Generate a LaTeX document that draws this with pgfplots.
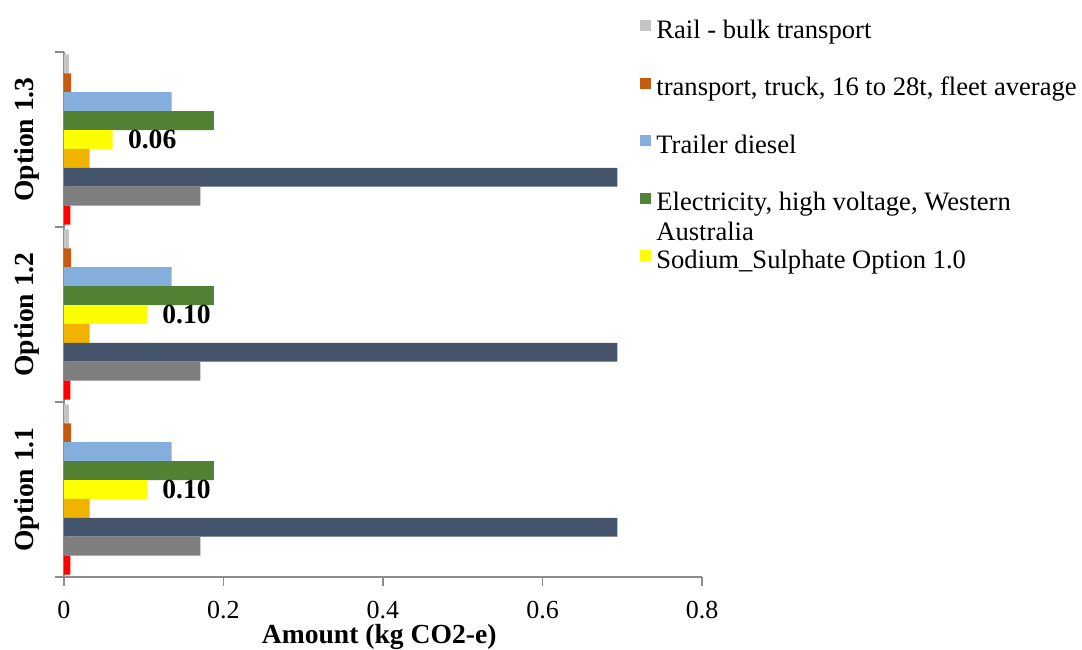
\documentclass[border=0pt]{standalone}
\usepackage{pgfplots}
\pgfplotsset{compat=1.18}
\usepackage{fontspec}
\setmainfont{Liberation Serif}

\definecolor{railgray}{HTML}{C4C4C4}
\definecolor{truckorange}{HTML}{C55A11}
\definecolor{trailerblue}{HTML}{84AEDC}
\definecolor{elecgreen}{HTML}{548235}
\definecolor{sodiumyellow}{HTML}{FFFF00}
\definecolor{goldbar}{HTML}{F0B400}
\definecolor{navybar}{HTML}{44546A}
\definecolor{midgray}{HTML}{7F7F7F}
\definecolor{redbar}{HTML}{FF0000}
\definecolor{axisgray}{HTML}{8C8C8C}

\begin{document}
\begin{tikzpicture}[font=\fontsize{13.3}{16}\selectfont]
\begin{axis}[
  xbar,
  scale only axis,
  width=319pt, height=262.5pt,
  xmin=0, xmax=0.8, ymin=0.5, ymax=3.5,
  axis x line*=bottom, axis y line*=left,
  axis line style={axisgray, line width=0.75pt},
  bar width=0.108,
  xtick={0,0.2,0.4,0.6,0.8},
  minor xtick={0,0.2,0.4,0.6,0.8},
  ytick={1,2,3},
  yticklabels={Option 1.1, Option 1.2, Option 1.3},
  minor ytick={0.5,1.5,2.5,3.5},
  major tick length=0pt,
  minor tick length=4.5pt,
  tick align=outside,
  tick style={axisgray, line width=0.75pt},
  /pgf/number format/assume math mode=true,
  xticklabel style={inner sep=0pt, anchor=north, yshift=-12pt, font=\fontsize{13}{16}\selectfont},
  yticklabel style={inner sep=0pt, font=\fontsize{13.8}{16}\selectfont\bfseries, rotate=90, anchor=center, yshift=18.5pt},
  xlabel={Amount (kg CO2-e)},
  xlabel style={at={(axis description cs:0.494,0)}, anchor=base, yshift=-33.5pt, inner sep=0pt, font=\fontsize{13.8}{16}\selectfont\bfseries},
  legend cell align=left,
  legend image code/.code={\fill[#1] (0pt,0.5pt) rectangle (5.5pt,6pt); \path (8pt,0pt);},
  legend style={at={(rel axis cs:0.9028,1.061)}, anchor=north west, draw=none, fill=none,
    inner sep=0pt, row sep=16.75pt,
    nodes={inner sep=0pt, text height=9pt, text depth=3pt}},
]
% bar shifts place the nine sources from top to bottom within each option
\addplot[fill=railgray, draw=none, bar shift=0.432]
  coordinates {(0.006,1) (0.006,2) (0.006,3)};
\addlegendentry{Rail - bulk transport}
\addplot[fill=truckorange, draw=none, bar shift=0.324]
  coordinates {(0.009,1) (0.009,2) (0.009,3)};
\addlegendentry{transport, truck, 16 to 28t, fleet average}
\addplot[fill=trailerblue, draw=none, bar shift=0.216]
  coordinates {(0.135,1) (0.135,2) (0.135,3)};
\addlegendentry{Trailer diesel}
\addplot[fill=elecgreen, draw=none, bar shift=0.108]
  coordinates {(0.188,1) (0.188,2) (0.188,3)};
\addlegendentry{\parbox[t]{9cm}{\baselineskip=15pt Electricity, high voltage, Western\\Australia}}
\addplot[fill=sodiumyellow, draw=none, bar shift=0,
  nodes near coords, point meta=x,
  nodes near coords style={anchor=west, inner sep=0pt, xshift=7.5pt,
    font=\fontsize{13.8}{16}\selectfont\bfseries,
    /pgf/number format/.cd, fixed, fixed zerofill, precision=2, assume math mode=true}]
  coordinates {(0.104,1) (0.104,2) (0.061,3)};
\addlegendentry{Sodium\_Sulphate Option 1.0}
\addplot[fill=goldbar, draw=none, bar shift=-0.108, forget plot]
  coordinates {(0.032,1) (0.032,2) (0.032,3)};
\addplot[fill=navybar, draw=none, bar shift=-0.216, forget plot]
  coordinates {(0.694,1) (0.694,2) (0.694,3)};
\addplot[fill=midgray, draw=none, bar shift=-0.324, forget plot]
  coordinates {(0.171,1) (0.171,2) (0.171,3)};
\addplot[fill=redbar, draw=none, bar shift=-0.432, forget plot]
  coordinates {(0.008,1) (0.008,2) (0.008,3)};
\coordinate (bbsw) at (rel axis cs:-0.1003,-0.139);
\coordinate (bbne) at (rel axis cs:1.5956,1.099);
\end{axis}
\pgfresetboundingbox
\path[use as bounding box] (bbsw) rectangle (bbne);
\end{tikzpicture}
\end{document}
